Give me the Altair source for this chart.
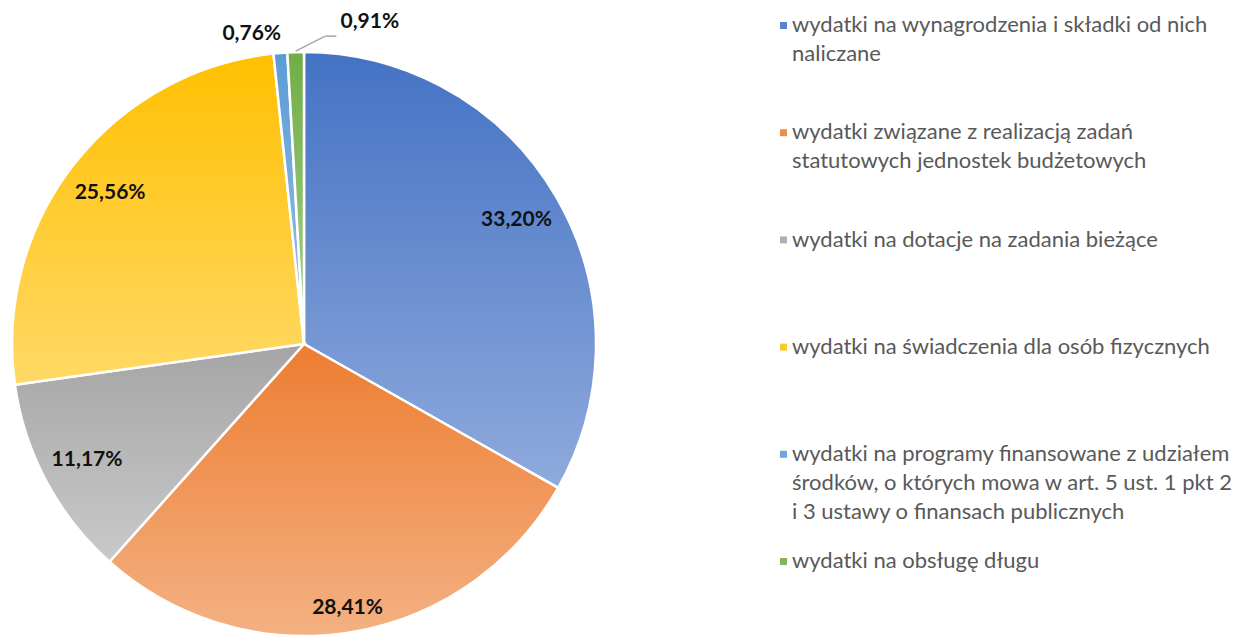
import math
import altair as alt
import pandas as pd

# ---- data ----
keys = ["wyn", "stat", "dot", "swi", "prog", "dlug"]
names = [
    "wydatki na wynagrodzenia i składki od nich\nnaliczane",
    "wydatki związane z realizacją zadań\nstatutowych jednostek budżetowych",
    "wydatki na dotacje na zadania bieżące",
    "wydatki na świadczenia dla osób fizycznych",
    "wydatki na programy finansowane z udziałem\nśrodków, o których mowa w art. 5 ust. 1 pkt 2\ni 3 ustawy o finansach publicznych",
    "wydatki na obsługę długu",
]
shares = [33.20, 28.41, 11.17, 25.56, 0.76, 0.91]

# ---- styles ----
top_colors = ["#4472C4", "#ED7D31", "#A5A5A5", "#FFC000", "#5B9BD5", "#70AD47"]
bottom_colors = ["#8FAADC", "#F4B183", "#C9C9C9", "#FFD966", "#9DC3E6", "#A9D18E"]
legend_colors = ["#5B82CC", "#EF8C4C", "#B0B0B0", "#FFC92E", "#6DA6DA", "#80B65D"]

df = pd.DataFrame({"idx": list(range(len(keys))), "key": keys, "name": names, "share": shares})

CX, CY, R = 296, 336, 292
FONT = "Lato"

base = (
    alt.Chart(df)
    .transform_window(cum="sum(share)", sort=[alt.SortField("idx")], frame=[None, 0])
    .transform_joinaggregate(total="sum(share)")
    .transform_calculate(
        start="(datum.cum - datum.share) / datum.total",
        stop="datum.cum / datum.total",
        mid="(datum.cum - datum.share / 2) / datum.total",
        label="replace(format(datum.share, '.2f'), '.', ',') + '%'",
    )
)

theta_scale = alt.Scale(domain=[0, 1], range=[0, 2 * math.pi])

layers = []
for k, top, bot in zip(keys, top_colors, bottom_colors):
    grad = {
        "gradient": "linear",
        "x1": 0, "y1": 0, "x2": 0, "y2": 1,
        "stops": [{"offset": 0, "color": top}, {"offset": 1, "color": bot}],
    }
    layers.append(
        base.transform_filter(f"datum.key === '{k}'")
        .mark_arc(x=CX, y=CY, radius=R, fill=grad, stroke="white", strokeWidth=2.5)
        .encode(theta=alt.Theta("start:Q", scale=theta_scale), theta2="stop:Q")
    )

label_style = dict(x=CX, y=CY, font=FONT, fontSize=21, fontWeight="bold", color="#111111",
                   align="center", baseline="middle")

# main data labels
big = (
    base.transform_filter("datum.key === 'wyn' || datum.key === 'dot' || datum.key === 'swi'")
    .mark_text(radius=246, **label_style)
    .encode(theta=alt.Theta("mid:Q", scale=theta_scale), text="label:N")
)
big_stat = (
    base.transform_filter("datum.key === 'stat'")
    .mark_text(radius=268, **label_style)
    .encode(theta=alt.Theta("mid:Q", scale=theta_scale), text="label:N")
)
layers += [big, big_stat]

# small outside labels
small_prog = (
    base.transform_filter("datum.key === 'prog'")
    .mark_text(radius=312, dx=-27, dy=1, **label_style)
    .encode(theta=alt.Theta("mid:Q", scale=theta_scale), text="label:N")
)
small_dlug = (
    base.transform_filter("datum.key === 'dlug'")
    .mark_text(radius=322, dx=75, dy=0, **label_style)
    .encode(theta=alt.Theta("mid:Q", scale=theta_scale), text="label:N")
)
layers += [small_prog, small_dlug]

# leader line for the last slice, derived from its angle
total = sum(shares)
mid_last = (total - shares[-1] / 2) / total * 2 * math.pi
sx = CX + (R + 1) * math.sin(mid_last)
sy = CY - (R + 1) * math.cos(mid_last)
lx = CX + 322 * math.sin(mid_last) + 75
ly = CY - 322 * math.cos(mid_last)
bx, by = lx - 44.5, ly + 14
ex, ey = lx - 33.5, ly + 14
one = alt.Chart(pd.DataFrame({"a": [0]}))
layers.append(one.mark_rule(color="#A6A6A6", strokeWidth=1.5).encode(
    x=alt.value(sx), y=alt.value(sy), x2=alt.value(bx), y2=alt.value(by)))
layers.append(one.mark_rule(color="#A6A6A6", strokeWidth=1.5).encode(
    x=alt.value(bx), y=alt.value(by), x2=alt.value(ex), y2=alt.value(ey)))

# legend
ly_scale = alt.Scale(type="point", domain=keys, range=[17.5, 553.5], padding=0)
leg_sq = alt.Chart(df).mark_square(size=49, opacity=1).encode(
    x=alt.value(775.5),
    y=alt.Y("key:N", scale=ly_scale, axis=None),
    color=alt.Color("key:N", scale=alt.Scale(domain=keys, range=legend_colors), legend=None),
)
leg_txt = alt.Chart(df).mark_text(
    align="left", baseline="top", dy=-10.4, font=FONT, fontSize=22, color="#595959",
    lineBreak="\n", lineHeight=29,
).encode(
    x=alt.value(784),
    y=alt.Y("key:N", scale=ly_scale, axis=None),
    text="name:N",
)
layers += [leg_sq, leg_txt]

chart = (
    alt.layer(*layers)
    .properties(width=1225, height=627, autosize=alt.AutoSizeParams(type="none"), padding=0)
    .configure_view(stroke=None)
)

chart.save("out.html", embed_options={"renderer": "svg", "actions": False})
